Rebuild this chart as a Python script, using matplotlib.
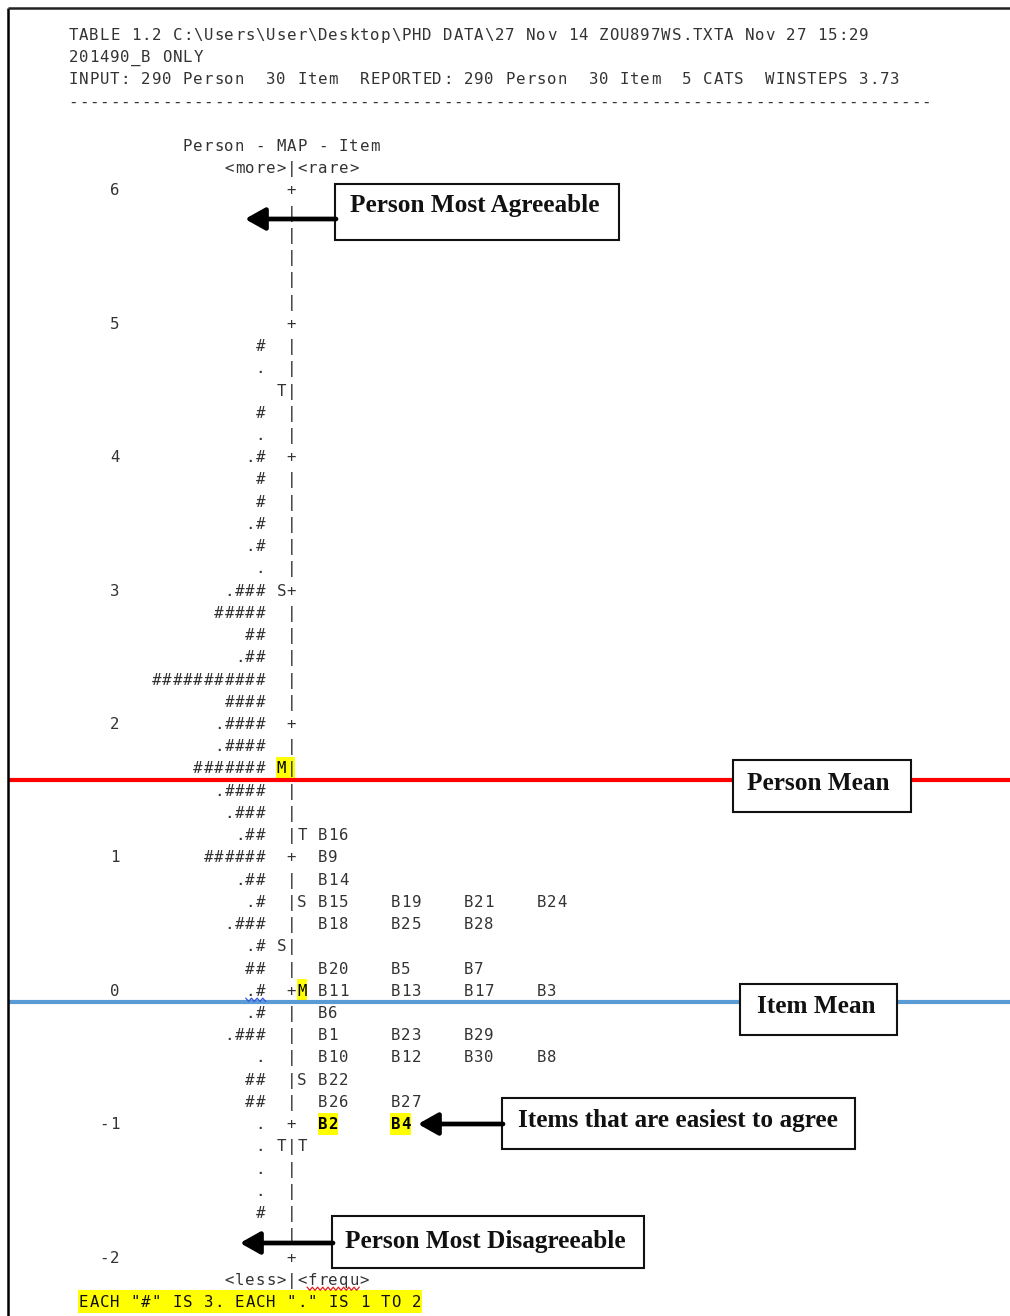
import matplotlib
matplotlib.use("Agg")
import matplotlib.pyplot as plt
from matplotlib.patches import Rectangle
from matplotlib.transforms import offset_copy
import numpy as np

# ---------------- data ----------------
header_lines = [
    "TABLE 1.2 C:\\Users\\User\\Desktop\\PHD DATA\\27 Nov 14 ZOU897WS.TXTA Nov 27 15:29",
    "201490_B ONLY",
    "INPUT: 290 Person  30 Item  REPORTED: 290 Person  30 Item  5 CATS  WINSTEPS 3.73",
    "-" * 83,
]
map_title = "Person - MAP - Item"
top_label = ("<more>", "<rare>")
bottom_label = ("<less>", "<frequ>")
footnote = 'EACH "#" IS 3. EACH "." IS 1 TO 2'

tick_values = [6, 5, 4, 3, 2, 1, 0, -1, -2]
rows_per_unit = 6

# person distribution, one string per row from +6 down to -2
person_hist = [
    "", "", "", "", "", "",
    "", "#", ".", "", "#", ".",
    ".#", "#", "#", ".#", ".#", ".",
    ".###", "#####", "##", ".##", "###########", "####",
    ".####", ".####", "#######", ".####", ".###", ".##",
    "######", ".##", ".#", ".###", ".#", "##",
    ".#", ".#", ".###", ".", "##", "##",
    ".", ".", ".", ".", "#", ".",
    "",
]

# person markers (logit, letter) and item markers
person_markers = [(4.5, "T"), (3.0, "S"), (1.67, "M"), (0.33, "S"), (-1.17, "T")]
item_markers = [(1.17, "T"), (0.67, "S"), (0.0, "M"), (-0.67, "S"), (-1.17, "T")]

# items located at each logit row
item_logits = [1.17, 1.0, 0.83, 0.67, 0.5, 0.17, 0.0, -0.17, -0.33, -0.5, -0.67, -0.83, -1.0]
item_labels = [
    ["B16"], ["B9"], ["B14"], ["B15", "B19", "B21", "B24"], ["B18", "B25", "B28"],
    ["B20", "B5", "B7"], ["B11", "B13", "B17", "B3"], ["B6"], ["B1", "B23", "B29"],
    ["B10", "B12", "B30", "B8"], ["B22"], ["B26", "B27"], ["B2", "B4"],
]
easiest_items = ["B2", "B4"]

person_mean_line = 1.58
item_mean_line = -0.09

# ---------------- layout ----------------
CHAR_PX = 10.4
ROW_PX = 22.23
X0_PX = 68.0
Y0_PX = 190.0
W, H = 1010, 1316

def px2col(p):
    return (p - X0_PX) / CHAR_PX

def py2logit(p):
    return 6 - (p - Y0_PX) / (ROW_PX * rows_per_unit)

def row2logit(r):
    return 6 - r / rows_per_unit

def logit2row(v):
    return int(round((6 - v) * rows_per_unit))

fig = plt.figure(figsize=(W / 100, H / 100), dpi=100)
ax = fig.add_axes([0, 0, 1, 1])
ax.set_xlim(px2col(0), px2col(W))
ax.set_ylim(py2logit(H), py2logit(0))
ax.axis("off")

MONO = "DejaVu Sans Mono"
FS = 11.3
TXT = "#333333"
base_tr = offset_copy(ax.transData, fig=fig, x=0, y=-5.5, units="dots")

def put(col, row, s, color=TXT, weight="normal", z=4):
    y = row2logit(row)
    for i, ch in enumerate(s):
        if ch != " ":
            ax.text(col + i + 0.5, y, ch, ha="center", va="baseline",
                    family=MONO, fontsize=FS, color=color, weight=weight,
                    transform=base_tr, zorder=z)

def highlight(col, row, width):
    ax.add_patch(Rectangle((col, row2logit(row + 0.5)), width, 1 / rows_per_unit,
                           facecolor="#FFFF00", edgecolor="none", zorder=2))

# header
for i, line in enumerate(header_lines):
    put(0, -7 + i, line)
put(11, -2, map_title)
put(21 - len(top_label[0]), -1, top_label[0] + "|" + top_label[1])

AXIS_COL = 21
n_rows = (tick_values[0] - tick_values[-1]) * rows_per_unit
for r in range(n_rows + 1):
    v = row2logit(r)
    if r % rows_per_unit == 0:
        lab = str(int(round(v)))
        put(5 - len(lab), r, lab)
        put(AXIS_COL, r, "+")
    else:
        put(AXIS_COL, r, "|")
    s = person_hist[r]
    if s:
        put(19 - len(s), r, s)

for v, m in person_markers:
    r = logit2row(v)
    if m == "M":
        highlight(20, r, 1.8)
    put(20, r, m, color="black" if m == "M" else TXT)
for v, m in item_markers:
    r = logit2row(v)
    if m == "M":
        highlight(22, r, 1.0)
    put(22, r, m, color="black" if m == "M" else TXT)

for v, labs in zip(item_logits, item_labels):
    r = logit2row(v)
    for k, lab in enumerate(labs):
        c = 24 + 7 * k
        if lab in easiest_items:
            highlight(c, r, len(lab))
            put(c, r, lab, color="black", weight="bold")
        else:
            put(c, r, lab)

put(21 - len(bottom_label[0]), n_rows + 1, bottom_label[0] + "|" + bottom_label[1])
highlight(1, n_rows + 2, len(footnote))
put(1, n_rows + 2, footnote, color="#111111")

# spell-check squiggles
def squiggle(c0, c1, row, color):
    xs = np.linspace(c0, c1, int((c1 - c0) * 4) + 1)
    base = row2logit(row) - 9.5 / (ROW_PX * rows_per_unit)
    amp = 1.6 / (ROW_PX * rows_per_unit)
    ys = base + amp * np.where(np.arange(len(xs)) % 2 == 0, 1, -1)
    ax.plot(xs, ys, color=color, lw=0.9, zorder=5)

squiggle(17.1, 19.0, logit2row(0.0), "#3355dd")
squiggle(23.0, 28.0, n_rows + 1, "#e02020")

# mean lines
x_left, x_right = px2col(8), px2col(W)
ax.plot([x_left, x_right], [person_mean_line] * 2, color="#FF0000", lw=3.0, zorder=3,
        solid_capstyle="butt")
ax.plot([x_left, x_right], [item_mean_line] * 2, color="#5B9BD5", lw=3.0, zorder=3,
        solid_capstyle="butt")

# page border
ax.plot([px2col(8), px2col(8)], [py2logit(8), py2logit(H)], color="black", lw=1.8, zorder=6,
        solid_capstyle="butt")
ax.plot([px2col(8), px2col(W)], [py2logit(8), py2logit(8)], color="#222222", lw=1.8, zorder=6,
        solid_capstyle="butt")

# callout boxes
SERIF = "Liberation Serif"
def callout(x0, y0, x1, y1, text, tx, ty):
    ax.add_patch(Rectangle((px2col(x0), py2logit(y1)), px2col(x1) - px2col(x0),
                           py2logit(y0) - py2logit(y1), facecolor="white",
                           edgecolor="#111111", lw=1.5, zorder=7))
    ax.text(px2col(tx), py2logit(ty), text, ha="left", va="baseline", family=SERIF,
            weight="bold", fontsize=18.2, color="#111111", zorder=8)

def arrow(x_tail, x_tip, y):
    ax.annotate("", xy=(px2col(x_tip), py2logit(y)), xytext=(px2col(x_tail), py2logit(y)),
                arrowprops=dict(arrowstyle="-|>,head_length=0.8,head_width=0.45",
                                mutation_scale=15, lw=3.4, color="black",
                                shrinkA=0, shrinkB=0),
                zorder=8)

callout(335, 184, 619, 240, "Person Most Agreeable", 350, 212)
arrow(336, 245, 219)
callout(733, 760, 911, 812, "Person Mean", 747, 790)
callout(740, 984, 897, 1035, "Item Mean", 757, 1013)
callout(502, 1098, 855, 1149, "Items that are easiest to agree", 518, 1127)
arrow(503, 418, 1124)
callout(332, 1216, 644, 1268, "Person Most Disagreeable", 345, 1248)
arrow(333, 240, 1243)

fig.savefig("out.png", dpi=100, facecolor="white")
